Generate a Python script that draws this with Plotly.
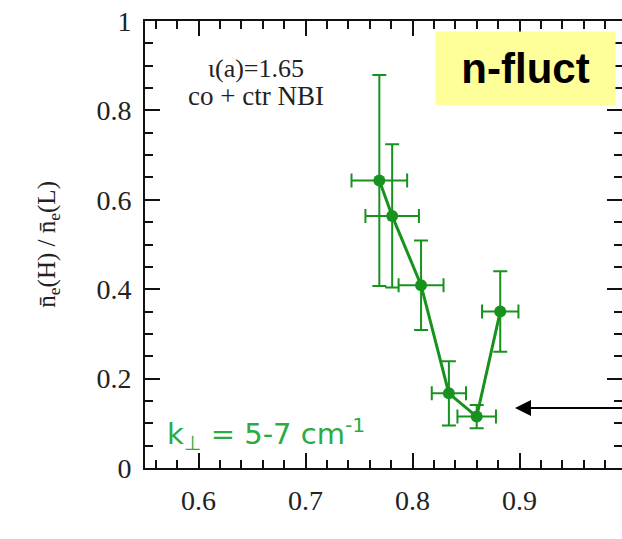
import plotly.graph_objects as go

# data
rho = [0.769, 0.781, 0.808, 0.834, 0.860, 0.882]
ratio = [0.643, 0.564, 0.409, 0.167, 0.115, 0.350]
ratio_err = [0.236, 0.16, 0.10, 0.072, 0.026, 0.09]
rho_err = [0.026, 0.025, 0.021, 0.016, 0.018, 0.017]

x_ticks = [0.6, 0.7, 0.8, 0.9]
y_ticks = [0, 0.2, 0.4, 0.6, 0.8, 1]

GREEN = "#18921f"
TEXT_GREEN = "#2aab44"
SERIF = "Liberation Serif, Times New Roman, serif"

fig = go.Figure()

fig.add_trace(go.Scatter(
    x=rho, y=ratio,
    mode="lines+markers",
    line=dict(color=GREEN, width=3),
    marker=dict(color=GREEN, size=12),
    error_y=dict(type="data", array=ratio_err, color=GREEN, thickness=2, width=7),
    error_x=dict(type="data", array=rho_err, color=GREEN, thickness=2, width=7),
    showlegend=False, hoverinfo="skip",
))
# invisible trace to register the right-hand tick axis
fig.add_trace(go.Scatter(x=rho, y=ratio, yaxis="y2", mode="markers",
                         marker=dict(opacity=0), showlegend=False, hoverinfo="skip"))

axis_font = dict(family=SERIF, size=28, color="#222")

fig.update_layout(
    width=622, height=539,
    margin=dict(l=145, r=0, t=21, b=71),
    paper_bgcolor="white", plot_bgcolor="white",
    xaxis=dict(
        range=[0.55, 0.9958], tickvals=x_ticks, ticktext=[str(v) for v in x_ticks],
        showline=True, linecolor="#111", linewidth=2, mirror="ticks",
        ticks="inside", ticklen=15, tickwidth=2, tickcolor="#111",
        minor=dict(dtick=0.02, tick0=0, ticks="inside", ticklen=8, tickwidth=2, tickcolor="#111"),
        showgrid=False, zeroline=False, tickfont=axis_font, ticklabelstandoff=6,
    ),
    yaxis=dict(
        range=[0, 1], tickvals=y_ticks, ticktext=[f"{v:g}" for v in y_ticks],
        showline=True, linecolor="#111", linewidth=2, mirror=False,
        ticks="inside", ticklen=15, tickwidth=2, tickcolor="#111",
        minor=dict(dtick=0.05, tick0=0, ticks="inside", ticklen=8, tickwidth=2, tickcolor="#111"),
        showgrid=False, zeroline=False, tickfont=axis_font, ticklabelstandoff=6,
        ticklabeloverflow="allow",
    ),
    yaxis2=dict(
        range=[0, 1], overlaying="y", side="right", tickvals=y_ticks,
        showticklabels=False, showline=False,
        ticks="inside", ticklen=15, tickwidth=2, tickcolor="#111",
        minor=dict(dtick=0.05, tick0=0, ticks="inside", ticklen=8, tickwidth=2, tickcolor="#111"),
        showgrid=False, zeroline=False,
    ),
)

annotations = [
    dict(text="ι(a)=1.65", x=0.654, y=0.893, xref="x", yref="y", showarrow=False,
         font=dict(family=SERIF, size=26, color="#222")),
    dict(text="co + ctr NBI", x=0.654, y=0.833, xref="x", yref="y", showarrow=False,
         font=dict(family=SERIF, size=27, color="#222")),
    dict(text="<b>n-fluct</b>", x=0.9056, y=0.894, xref="x", yref="y", showarrow=False,
         bgcolor="#ffff99", width=179, height=73, borderpad=0,
         font=dict(family="Liberation Sans, Arial, sans-serif", size=42, color="black")),
    dict(text="k<sub>⊥</sub> = 5-7 cm<sup>-1</sup>", x=0.569, y=0.075, xref="x", yref="y",
         xanchor="left", showarrow=False,
         font=dict(family="DejaVu Sans, sans-serif", size=29, color=TEXT_GREEN)),
    dict(text="", x=0.8958, y=0.134, ax=0.9986, ay=0.134, xref="x", yref="y",
         axref="x", ayref="y", showarrow=True, arrowhead=2, arrowsize=1.6,
         arrowwidth=2, arrowcolor="black"),
    dict(text="n̄<sub>e</sub>(H) / n̄<sub>e</sub>(L)", x=-0.203, y=0.5, xref="paper", yref="y",
         xanchor="center", yanchor="middle", textangle=-90, showarrow=False,
         font=dict(family=SERIF, size=25, color="#222")),
    dict(text="ρ", x=0.8, y=0, xref="x", yref="paper", yanchor="top", yshift=-58,
         showarrow=False, font=dict(family=SERIF, size=28, color="#222")),
]
fig.update_layout(annotations=annotations)

fig.write_html(
    "out.html",
    config={"displayModeBar": False},
    post_script="document.body.style.margin='0';document.body.style.overflow='hidden';",
)
